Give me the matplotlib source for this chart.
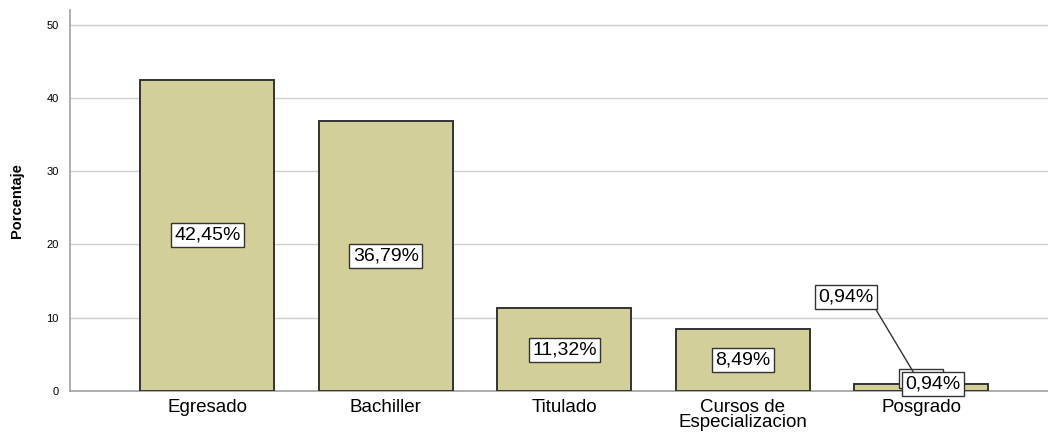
import matplotlib.pyplot as plt
import numpy as np

plt.rcParams['font.family'] = ['Liberation Sans', 'DejaVu Sans']

categories = ['Egresado', 'Bachiller', 'Titulado', 'Cursos de\nEspecializacion', 'Posgrado']
values = [42.45, 36.79, 11.32, 8.49, 0.94]
labels = ['42,45%', '36,79%', '11,32%', '8,49%', '0,94%']
yticks = [0, 10, 20, 30, 40, 50]

fig = plt.figure(figsize=(10.48, 4.32), dpi=100)
ax = fig.add_axes([70 / 1048, 41 / 432, 1 - 70 / 1048, 381 / 432])

x = np.arange(len(categories))
ax.bar(x, values, width=0.75, color='#d3cf98', edgecolor='#333333', linewidth=1.4, zorder=3)

ax.set_xlim(-0.77, 4.71)
ax.set_ylim(0, 52)
ax.set_yticks(yticks)
ax.set_yticklabels([str(t) for t in yticks], fontsize=8)
ax.set_xticks(x)
ax.set_xticklabels(categories, fontsize=13.5, linespacing=0.8)
ax.tick_params(axis='both', length=0, pad=8)
ax.tick_params(axis='x', pad=6)
ax.grid(axis='y', color='#d0d0d0', linewidth=1, zorder=0)
for s in ['top', 'right']:
    ax.spines[s].set_visible(False)
for s in ['left', 'bottom']:
    ax.spines[s].set_color('#a0a0a0')
    ax.spines[s].set_linewidth(1.2)
ax.set_ylabel('Porcentaje', fontsize=10.5, fontweight='bold', labelpad=16)

box = dict(boxstyle='square,pad=0.18', facecolor='white', edgecolor='#333333', linewidth=1)

# labels at mid height of the big bars
for i in range(4):
    ax.text(x[i], values[i] / 2, labels[i], ha='center', va='center', fontsize=14, bbox=box, zorder=5)

# small bar: overlapping labels and a leader label
ax.text(x[4], values[4] + 0.7, labels[4], ha='center', va='center', fontsize=10,
        bbox=box, zorder=4, color='white')
ax.text(x[4] + 0.067, values[4] + 0.02, labels[4], ha='center', va='center', fontsize=14,
        bbox=box, zorder=6)
ax.annotate(labels[4], xy=(x[4] - 0.045, values[4] + 1.66), xytext=(x[4] - 0.423, values[4] + 11.9),
            ha='center', va='center', fontsize=14, bbox=box, zorder=6,
            arrowprops=dict(arrowstyle='-', color='#333333', linewidth=1,
                            relpos=(1.0, 0.0), shrinkA=0, shrinkB=0))

fig.savefig('out.png', dpi=100)
